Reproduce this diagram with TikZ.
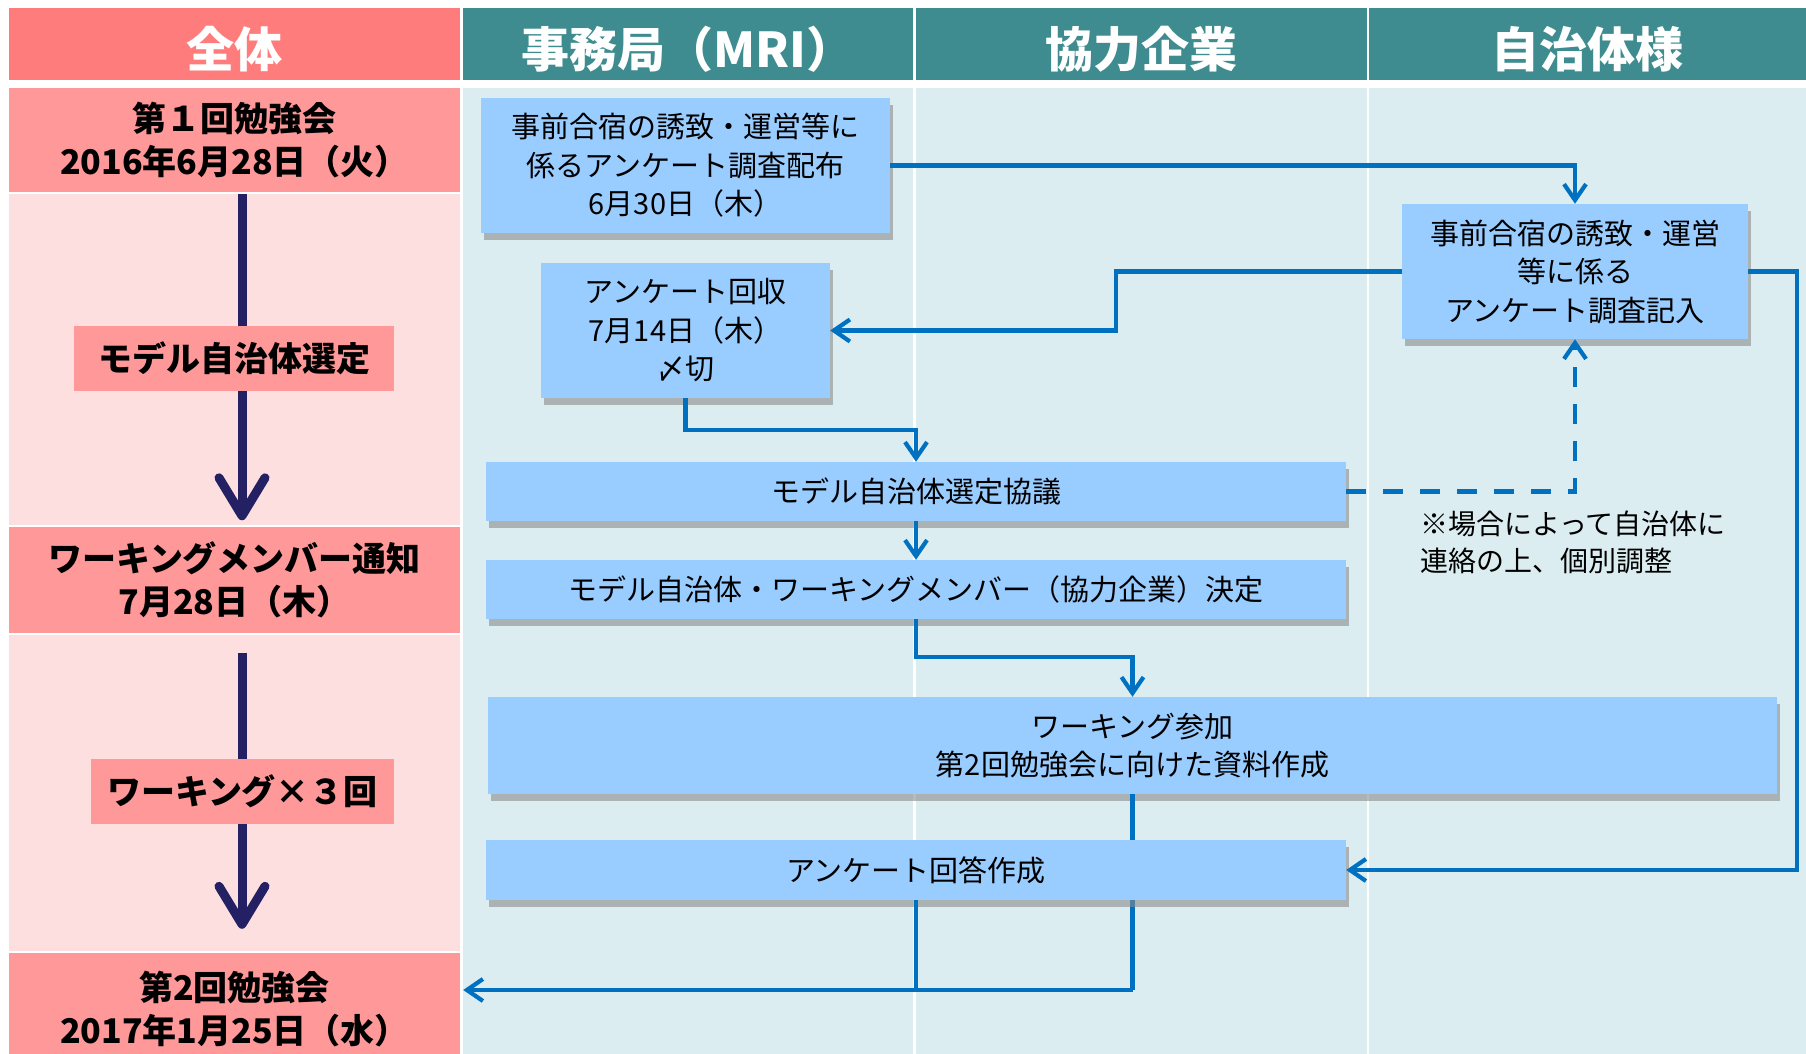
\documentclass[tikz,border=0pt]{standalone}
\usepackage{fontspec}
\setmainfont{Noto Sans CJK JP}
\usetikzlibrary{arrows.meta,shadows}
\definecolor{headteal}{RGB}{62,140,143}
\definecolor{headred}{RGB}{255,124,124}
\definecolor{salmon}{RGB}{255,153,153}
\definecolor{palepink}{RGB}{253,223,224}
\definecolor{paleblue}{RGB}{219,237,240}
\definecolor{boxblue}{RGB}{153,204,255}
\definecolor{flowblue}{RGB}{0,112,192}
\definecolor{navy}{RGB}{35,32,100}

\begin{document}
\begin{tikzpicture}[x=1pt, y=-1pt,
    head/.style={fill=headteal, text=white, inner sep=0pt, minimum height=72pt,
        text height=46pt, text depth=0pt,
        font=\bfseries\fontsize{48}{52}\selectfont},
    event/.style={fill=salmon, inner sep=0pt, minimum width=451pt, align=center,
        font=\bfseries\fontsize{34}{43}\selectfont},
    phase/.style={fill=salmon, inner sep=0pt, minimum height=65pt,
        font=\bfseries\fontsize{34}{40}\selectfont},
    task/.style={fill=boxblue, inner sep=0pt, align=center,
        font=\fontsize{29}{38.5}\selectfont,
        drop shadow={shadow xshift=3pt, shadow yshift=-7pt, fill=black!45, opacity=0.6}},
    flow/.style={draw=flowblue, line width=4.2pt, -{Straight Barb[length=16pt,width=22pt]}},
    period/.style={draw=navy, line width=9pt, -{Straight Barb[length=38pt,width=46pt,round]}}]

    \useasboundingbox (0,0) rectangle (1806,1054);
    \fill[white] (0,0) rectangle (1806,1054);

    \node[head, fill=headred, minimum width=451pt] (hAll) at (234.5,44.5) {全体};
    \node[head, minimum width=450pt] (hMri) at (688,44.5) {事務局（MRI）};
    \node[head, minimum width=451pt] (hFirm) at (1141.5,44.5) {協力企業};
    \node[head, minimum width=437pt] (hTown) at (1587.5,44.5) {自治体様};

    \fill[palepink] (9,194) rectangle (460,524.5);
    \fill[palepink] (9,635) rectangle (460,951);
    \fill[paleblue] (463,88) rectangle (913,1054);
    \fill[paleblue] (916,88) rectangle (1367,1054);
    \fill[paleblue] (1369,88) rectangle (1806,1054);

    \node[event, minimum height=104pt] (ev1) at (234.5,140) {第１回勉強会\\2016年6月28日（火）};
    \node[event, minimum height=106pt] (ev2) at (234.5,579.5) {ワーキングメンバー通知\\7月28日（木）};
    \node[event, minimum height=112pt] (ev3) at (234.5,1009) {第2回勉強会\\2017年1月25日（水）};

    \draw[period, shorten <=2pt, shorten >=6pt] (ev1.south -| 242,0) -- (ev2.north -| 242,0);
    \draw[period, shorten <=20pt, shorten >=24pt] (ev2.south -| 242,0) -- (ev3.north -| 242,0);

    \node[phase, minimum width=320pt] (ph1) at (234,358.5) {モデル自治体選定};
    \node[phase, minimum width=303pt] (ph2) at (242.5,791.5) {ワーキング×３回};

    \node[task, minimum width=409pt, minimum height=135pt] (b1) at (685.5,165.5)
        {事前合宿の誘致・運営等に\\係るアンケート調査配布\\6月30日（木）};
    \node[task, minimum width=289pt, minimum height=135pt] (b2) at (685.5,330.5)
        {アンケート回収\\7月14日（木）\\〆切};
    \node[task, minimum width=346pt, minimum height=135pt] (b3) at (1575,271.5)
        {事前合宿の誘致・運営\\等に係る\\アンケート調査記入};
    \node[task, minimum width=860pt, minimum height=59pt] (b4) at (916,491.5) {モデル自治体選定協議};
    \node[task, minimum width=860pt, minimum height=59pt] (b5) at (916,589.5)
        {モデル自治体・ワーキングメンバー（協力企業）決定};
    \node[task, minimum width=1289pt, minimum height=97pt] (b6) at (1132.5,745.5)
        {ワーキング参加\\第2回勉強会に向けた資料作成};

    \coordinate (merge) at (1132.5,990);
    \draw[flowblue, line width=4.2pt] (b6.south) -- (merge);

    \node[task, minimum width=860pt, minimum height=60pt] (b7) at (916,870) {アンケート回答作成};

    \node[anchor=west, align=left, inner sep=0pt, font=\fontsize{28}{37}\selectfont] (note)
        at (1420,542.5) {※場合によって自治体に\\連絡の上、個別調整};

    \draw[flow] (b1.east) -| (b3.north);
    \draw[flow] (b3.west) -- ++(-286,0) |- (b2.east);
    \draw[flow] (b2.south) -- ++(0,32) -| (b4.north);
    \draw[flow] (b4.south) -- (b5.north);
    \draw[flow] (b5.south) -- ++(0,38) -| (b6.north);
    \draw[flow, dash pattern=on 20pt off 17pt] (b4.east) -| (b3.south);
    \draw[flow] (b3.east) -- ++(49,0) |- (b7.east);
    \draw[flowblue, line width=4.2pt] (b7.south) -- (b7.south |- merge);
    \draw[flow, shorten >=3pt] (merge) -- (merge -| ev3.east);
\end{tikzpicture}
\end{document}
